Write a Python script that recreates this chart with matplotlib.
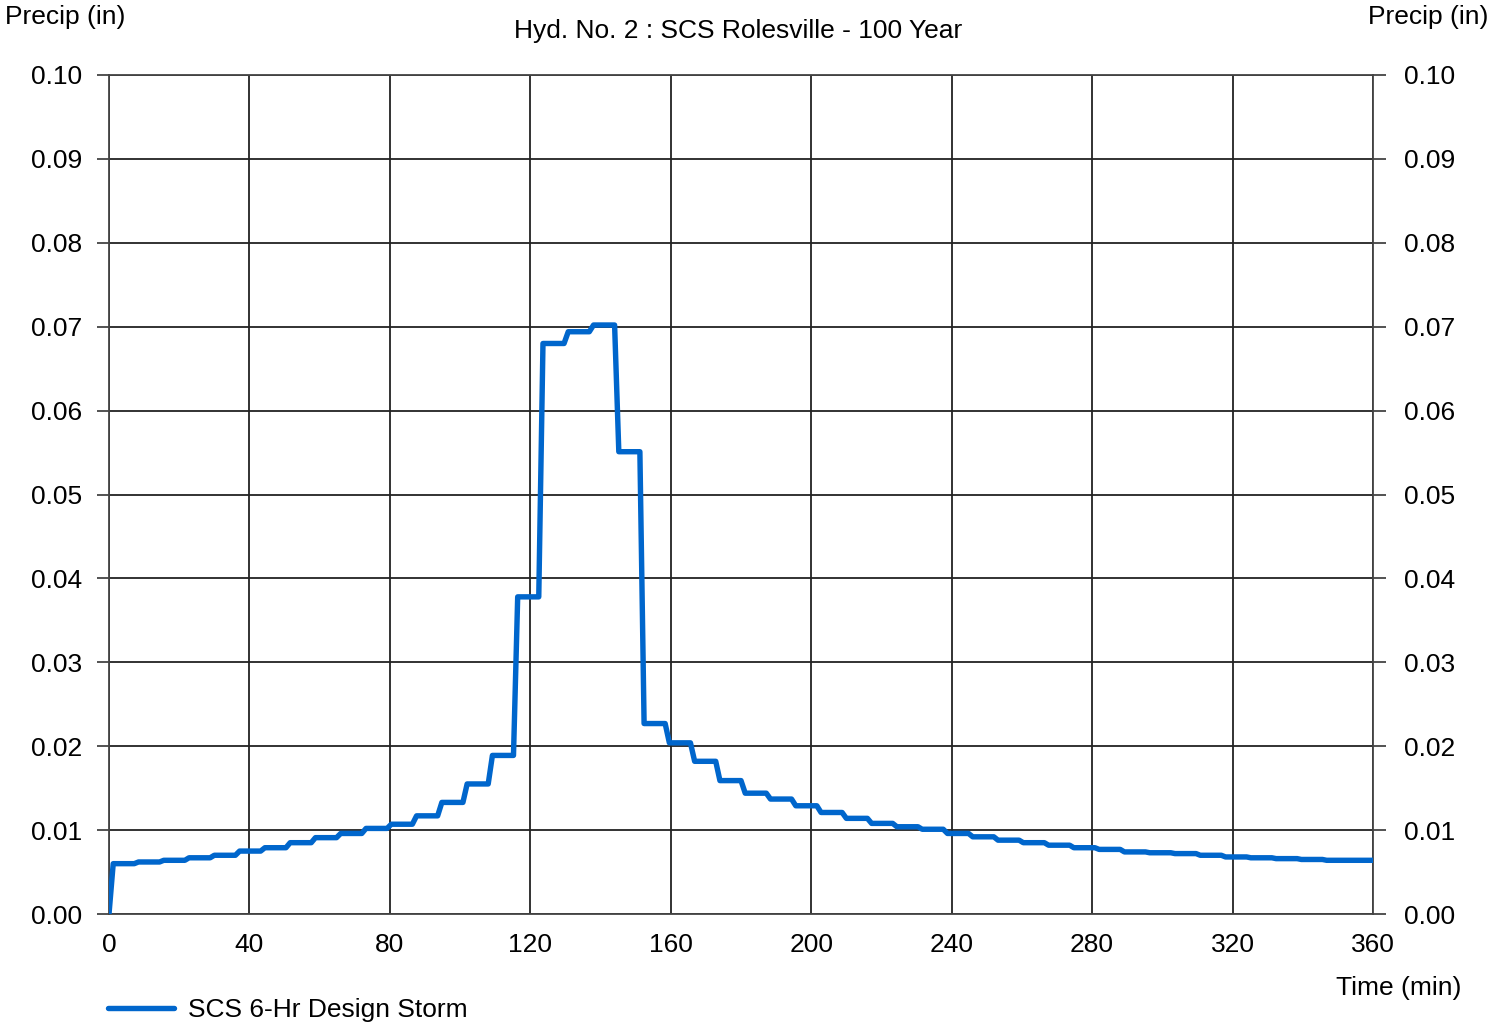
import numpy as np
import matplotlib
matplotlib.use("Agg")
import matplotlib.pyplot as plt

plt.rcParams['font.family'] = ['Liberation Sans', 'DejaVu Sans']

# precip per 7.2-minute block (in)
block_min = 7.2
step_min = 1.2
precip = [0.0060, 0.0062, 0.0064, 0.0067, 0.0070, 0.0075, 0.0079, 0.0085,
          0.0091, 0.0096, 0.0102, 0.0107, 0.0117, 0.0133, 0.0155, 0.0189,
          0.0378, 0.0680, 0.0694, 0.0702, 0.0551, 0.0227, 0.0204, 0.0182,
          0.0159, 0.0144, 0.0137, 0.0129, 0.0121, 0.0114, 0.0108, 0.0104,
          0.0101, 0.0096, 0.0092, 0.0088, 0.0085, 0.0082, 0.0079, 0.0077,
          0.0074, 0.0073, 0.0072, 0.0070, 0.0068, 0.0067, 0.0066, 0.0065,
          0.0064, 0.0064]

x_ticks = [0, 40, 80, 120, 160, 200, 240, 280, 320, 360]
y_ticks = [0.00, 0.01, 0.02, 0.03, 0.04, 0.05, 0.06, 0.07, 0.08, 0.09, 0.10]

# hyetograph sampled every 1.2 min, value held over each block
n_per = int(round(block_min / step_min))
vals = np.concatenate([[0.0], np.repeat(precip, n_per)])
times = np.arange(len(vals)) * step_min

fs = 19

fig = plt.figure(figsize=(14.89, 10.28), dpi=100)
ax = fig.add_axes([109 / 1489, 1 - 914 / 1028, (1373 - 109) / 1489, (914 - 75) / 1028])

line, = ax.plot(times, vals, color="#0066cc", lw=3.9, solid_joinstyle="round",
                solid_capstyle="round", label="SCS 6-Hr Design Storm", zorder=3)

ax.set_xlim(0, 360)
ax.set_ylim(0, 0.10)
ax.set_xticks(x_ticks)
ax.set_yticks(y_ticks)
ax.set_yticklabels(["%.2f" % v for v in y_ticks])
ax.grid(True, color="#222222", lw=1.3)
for s in ax.spines.values():
    s.set_color("#444444")
    s.set_linewidth(1.3)
ax.tick_params(axis="y", which="major", labelsize=fs, length=9, width=1.3,
               color="#444444", pad=10)
ax.tick_params(axis="x", which="major", labelsize=fs, length=0, pad=14)

# same scale on the right
ax2 = ax.twinx()
ax2.set_ylim(ax.get_ylim())
ax2.set_yticks(y_ticks)
ax2.set_yticklabels(["%.2f" % v for v in y_ticks])
ax2.tick_params(axis="y", labelsize=fs, length=9, width=1.3, color="#444444", pad=13)
for s in ax2.spines.values():
    s.set_visible(False)

fig.text(5 / 1489, 1 - 17 / 1028, "Precip (in)", fontsize=fs, ha="left", va="center")
fig.text(1488 / 1489, 1 - 17 / 1028, "Precip (in)", fontsize=fs, ha="right", va="center")
fig.text(738 / 1489, 1 - 31 / 1028, "Hyd. No. 2 : SCS Rolesville - 100 Year",
         fontsize=fs, ha="center", va="center")
fig.text(1461 / 1489, 1 - 988 / 1028, "Time (min)", fontsize=fs, ha="right", va="center")

fig.legend(handles=[line], loc="center left", bbox_to_anchor=(84 / 1489, 1 - 1010 / 1028),
           frameon=False, fontsize=fs, handlelength=2.5, handletextpad=0.55)

fig.savefig("out.png", dpi=100)
